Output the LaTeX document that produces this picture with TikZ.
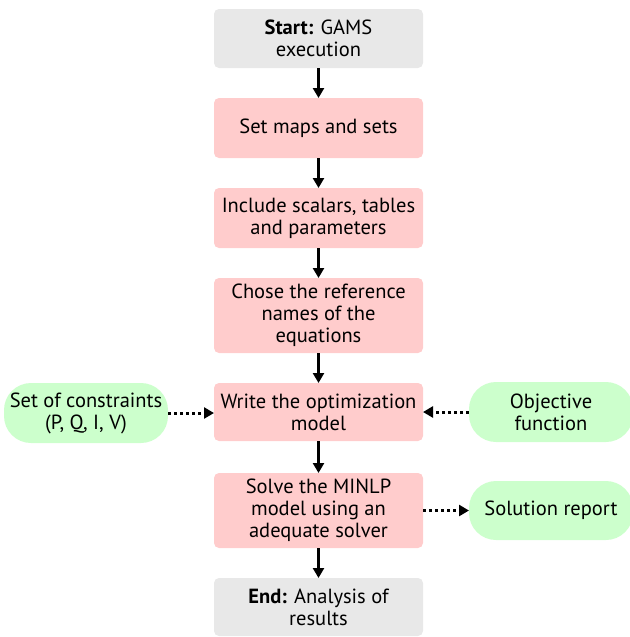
\documentclass[tikz,border=0pt]{standalone}
\usepackage{fontspec}
\setmainfont{PT Sans}
\usetikzlibrary{arrows.meta}
\definecolor{termgray}{HTML}{E8E8E8}
\definecolor{steppink}{HTML}{FFCCCC}
\definecolor{inputgreen}{HTML}{CCFFCC}
\begin{document}
\begin{tikzpicture}[x=1pt, y=-1pt, font=\fontsize{20.5}{22}\selectfont,
  every node/.style={align=center, inner sep=0pt, outer sep=0pt},
  mainbox/.style={minimum width=209pt, rounded corners=5pt},
  termbox/.style={mainbox, fill=termgray},
  stepbox/.style={mainbox, fill=steppink},
  sidebox/.style={fill=inputgreen, minimum width=164pt, minimum height=60pt, rounded corners=27pt},
  flow/.style={line width=3pt, -{Triangle[length=10pt, width=11pt]}},
  feed/.style={line width=3pt, dash pattern=on 3pt off 3pt, -{Triangle[length=10pt, width=11pt]}}]
  \useasboundingbox (0,0) rectangle (629,637);
  %% main column
  \node[termbox, minimum height=59pt] (start) at (318.5, 38.5) {\textbf{Start:} GAMS\\execution};
  \node[stepbox, minimum height=60pt] (maps) at (318.5, 128) {Set maps and sets};
  \node[stepbox, minimum height=60pt] (incl) at (318.5, 218) {Include scalars, tables\\and parameters};
  \node[stepbox, minimum height=75pt] (names) at (318.5, 315.5) {Chose the reference\\names of the\\equations};
  \node[stepbox, minimum height=58pt] (write) at (318.5, 412) {Write the optimization\\model};
  \node[stepbox, minimum height=75pt] (solve) at (318.5, 510.5) {Solve the MINLP\\model using an\\adequate solver};
  \node[termbox, minimum height=58pt] (end) at (318.5, 607) {\textbf{End:} Analysis of\\results};
  %% side boxes
  \node[sidebox] (cons) at (86, 413) {Set of constraints\\(P, Q, I, V)};
  \node[sidebox] (obj) at (551, 412) {Objective\\function};
  \node[sidebox, minimum height=59pt] (report) at (551, 510.5) {Solution report};
  %% arrows
  \draw[flow] (start) -- (maps);
  \draw[flow] (maps) -- (incl);
  \draw[flow] (incl) -- (names);
  \draw[flow] (names) -- (write);
  \draw[flow] (write) -- (solve);
  \draw[flow] (solve) -- (end);
  % dotted feeds
  \draw[feed] (cons.east) -- (cons.east -| write.west);
  \draw[feed] (obj.west) -- (obj.west -| write.east);
  \draw[feed] (solve.east) -- (report.west);
\end{tikzpicture}
\end{document}
